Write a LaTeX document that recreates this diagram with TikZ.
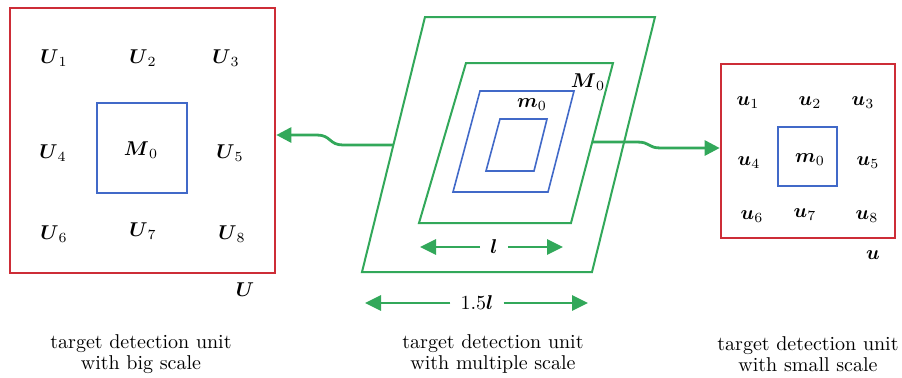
\documentclass[tikz,border=0pt]{standalone}
\usepackage{amsmath, amssymb}
\usepackage{tikz}
\usetikzlibrary{arrows.meta, positioning, calc, fit}

\definecolor{boxred}{RGB}{205,45,55}
\definecolor{boxblue}{RGB}{65,105,200}
\definecolor{linkgreen}{RGB}{50,168,90}

\newcommand{\bv}[1]{\boldsymbol{#1}}

\begin{document}
\begin{tikzpicture}[x=0.5pt, y=-0.5pt,
    redbox/.style={draw=boxred, line width=1.3pt, inner sep=0pt},
    bluebox/.style={draw=boxblue, line width=1.3pt, inner sep=0pt},
    frame/.style={draw=linkgreen, line width=1pt},
    window/.style={draw=boxblue, line width=0.8pt},
    link/.style={linkgreen, line width=1.4pt, -{Triangle[length=7.5pt, width=7.5pt]}},
    dim/.style={linkgreen, line width=1.4pt, -{Triangle[length=8pt, width=7.5pt]}},
    dimlab/.style={inner sep=5pt},
    caption/.style={align=center, font=\fontsize{10}{10.5}\selectfont}]

    \useasboundingbox (0,0) rectangle (902,377);

    % big scale unit U
    \node[redbox, fit={(10,8) (275,273)}] (U) {};
    \node[bluebox, fit={(97,103) (187,193)}] (M0) {};
    \node (M0lab) at (141,150) {$\bv{M}_0$};
    \node (U1) at (54,58) {$\bv{U}_1$};
    \node (U2) at (143,58) {$\bv{U}_2$};
    \node (U3) at (226,58) {$\bv{U}_3$};
    \node (U4) at (53,153) {$\bv{U}_4$};
    \node (U5) at (230,153) {$\bv{U}_5$};
    \node (U6) at (54,234) {$\bv{U}_6$};
    \node (U7) at (143,231) {$\bv{U}_7$};
    \node (U8) at (232,234) {$\bv{U}_8$};
    \node (Ulab) at (245,290) {$\bv{U}$};

    % multiple scale unit: green windows, blue windows
    \draw[frame] (425,17) -- (655,17) -- (592,272) -- (362,272) -- cycle;
    \draw[frame] (466,63) -- (613,63) -- (571,223) -- (419,223) -- cycle;
    \draw[window] (480,91) -- (574,91) -- (548,192) -- (453,192) -- cycle;
    \draw[window] (500,119) -- (547,119) -- (534,171) -- (486,171) -- cycle;
    \node (Mm) at (588,82) {$\bv{M}_0$};
    \node (mm) at (532,105) {$\bv{m}_0$};

    % l and 1.5l
    \node[dimlab] (l) at (494,247) {$\bv{l}$};
    \coordinate (lA) at (420,247);
    \coordinate (lB) at (563,247);
    \draw[dim] (l) -- (lA);
    \draw[dim] (l) -- (lB);
    \node[dimlab] (L) at (477,303) {$1.5\bv{l}$};
    \coordinate (LA) at (365,303);
    \coordinate (LB) at (588,303);
    \draw[dim] (L) -- (LA);
    \draw[dim] (L) -- (LB);

    % small scale unit u
    \node[redbox, fit={(721,64) (895,238)}] (u) {};
    \node[bluebox, fit={(778,127) (837,186)}] (m0) {};
    \node (m0lab) at (810,160) {$\bv{m}_0$};
    \node (u1) at (748,103) {$\bv{u}_1$};
    \node (u2) at (810,103) {$\bv{u}_2$};
    \node (u3) at (863,103) {$\bv{u}_3$};
    \node (u4) at (749,163) {$\bv{u}_4$};
    \node (u5) at (868,163) {$\bv{u}_5$};
    \node (u6) at (752,217) {$\bv{u}_6$};
    \node (u7) at (805,215) {$\bv{u}_7$};
    \node (u8) at (867,217) {$\bv{u}_8$};
    \node (ulab) at (873,255) {$\bv{u}$};

    % links
    \coordinate (pL) at (393,145);
    \coordinate (pR) at (592,142);
    \coordinate (tL) at (0,135);
    \coordinate (tR) at (0,148);
    \draw[link] (pL) -- ++(-50,0) .. controls +(-14,0) and +(14,0) .. ++(-26,-10) -- (U.east |- tL);
    \draw[link] (pR) -- ++(45,0) .. controls +(14,0) and +(-14,0) .. ++(24,6) -- (u.west |- tR);

    % captions
    \node[caption] (capU) at (141,354) {target detection unit\\with big scale};
    \node[caption] (capM) at (493,354) {target detection unit\\with multiple scale};
    \node[caption] (capu) at (808,354) {target detection unit\\with small scale};
\end{tikzpicture}
\end{document}
